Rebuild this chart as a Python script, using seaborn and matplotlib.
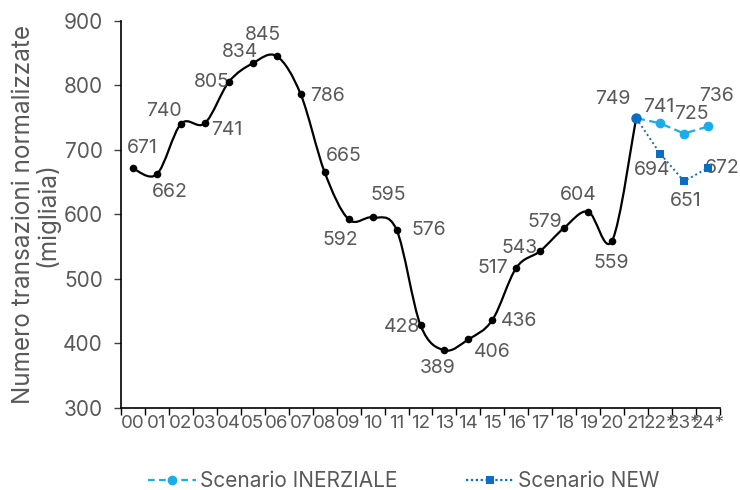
import numpy as np
import pandas as pd
import matplotlib
matplotlib.use("Agg")
import matplotlib.pyplot as plt
from matplotlib.path import Path
from matplotlib.patches import PathPatch
from matplotlib.lines import Line2D
import seaborn as sns

# Hour labels and observed values (thousands)
hours = ["00", "01", "02", "03", "04", "05", "06", "07", "08", "09", "10",
         "11", "12", "13", "14", "15", "16", "17", "18", "19", "20", "21",
         "22*", "23*", "24*"]
observed = [671, 662, 740, 741, 805, 834, 845, 786, 665, 592, 595, 576,
            428, 389, 406, 436, 517, 543, 579, 604, 559, 749]
# Scenarios start from the last observed hour (21)
scen_hours = ["21", "22*", "23*", "24*"]
inerziale = [749, 741, 725, 736]
new = [749, 694, 651, 672]

# label offsets (points) for the data labels
obs_offsets = [(7, 15), (9, -13), (-12, 9), (16, -5), (-12, 0), (-9, 8),
               (-10, 15), (19, -1), (14, 12), (-6, -15), (11, 16), (23, 0),
               (-13, -1), (-5, -13), (17, -9), (19, -1), (-17, 0), (-15, 2),
               (-14, 4), (-7, 12), (-1, -16), (-17, 14)]
inr_offsets = [None, (-1, 12), (5, 14), (6, 22)]
new_offsets = [None, (-6, -12), (1, -14), (10, 0)]

sns.set_theme(style="white")
plt.rcParams["font.family"] = ["Inter", "DejaVu Sans"]

GRAY = "#595959"
LIGHT = "#1AADEA"
DARK = "#0A6FC2"

fig = plt.figure(figsize=(7.4, 4.9), dpi=100)
ax = fig.add_axes([121 / 740, 82.3 / 490, 599 / 740, 387 / 490])

pos = {h: i for i, h in enumerate(hours)}
xo = np.array([pos[h] for h in hours[:len(observed)]], dtype=float)
yo = np.array(observed, dtype=float)

# smoothed observed curve: cubic Bezier segments through every point
verts = [(xo[0], yo[0])]
codes = [Path.MOVETO]
n = len(xo)
for i in range(n - 1):
    p0 = np.array([xo[max(i - 1, 0)], yo[max(i - 1, 0)]])
    p1 = np.array([xo[i], yo[i]])
    p2 = np.array([xo[i + 1], yo[i + 1]])
    p3 = np.array([xo[min(i + 2, n - 1)], yo[min(i + 2, n - 1)]])
    c1 = p1 + (p2 - p0) / 6.0
    c2 = p2 - (p3 - p1) / 6.0
    verts += [tuple(c1), tuple(c2), tuple(p2)]
    codes += [Path.CURVE4] * 3
ax.add_patch(PathPatch(Path(verts, codes), fill=False, edgecolor="black",
                       lw=1.6, zorder=3))

df_obs = pd.DataFrame({"x": xo, "y": yo})
sns.scatterplot(data=df_obs.iloc[:-1], x="x", y="y", color="black", s=30,
                edgecolor="black", linewidth=0, ax=ax, zorder=4)

xs = np.array([pos[h] for h in scen_hours], dtype=float)
df_inr = pd.DataFrame({"x": xs, "y": inerziale})
df_new = pd.DataFrame({"x": xs, "y": new})
sns.lineplot(data=df_inr, x="x", y="y", color=LIGHT, lw=1.6, ax=ax,
             marker="o", markersize=7, markeredgewidth=0, zorder=5,
             linestyle=(0, (4, 2)), markevery=[1, 2, 3])
sns.lineplot(data=df_new, x="x", y="y", color=DARK, lw=1.4, ax=ax,
             marker="s", markersize=6, markeredgewidth=0, zorder=5,
             linestyle=(0, (1, 1.5)), markevery=[1, 2, 3])
# shared starting point
ax.plot([xs[0]], [inerziale[0]], marker="o", color=DARK, markersize=7.5,
        markeredgewidth=0, zorder=6)

label_kw = dict(textcoords="offset points", ha="center", va="center",
                color=GRAY, fontsize=14, annotation_clip=False)
for x, y, off in zip(xo, yo, obs_offsets):
    ax.annotate(f"{int(y)}", (x, y), xytext=off, **label_kw)
for x, y, off in zip(xs[1:], inerziale[1:], inr_offsets[1:]):
    ax.annotate(f"{int(y)}", (x, y), xytext=off, **label_kw)
for x, y, off in zip(xs[1:], new[1:], new_offsets[1:]):
    ax.annotate(f"{int(y)}", (x, y), xytext=off, **label_kw)

# axes
ax.set_xlim(-0.5, len(hours) - 0.5)
ax.set_ylim(300, 900)
ax.set_yticks(np.arange(300, 901, 100))
ax.set_xticks(np.arange(-0.5, len(hours), 1.0))
ax.set_xticklabels([])
ax.set_xticks(np.arange(len(hours)), minor=True)
ax.set_xticklabels(hours, minor=True)
ax.tick_params(axis="x", which="major", direction="out", length=5,
               width=1, color="black", bottom=True)
ax.tick_params(axis="x", which="minor", length=0, labelsize=13.5,
               labelcolor=GRAY, pad=5, bottom=True)
ax.tick_params(axis="y", direction="out", length=5, width=1, color="#404040",
               labelsize=15, labelcolor=GRAY, left=True, pad=8)
for side in ["top", "right"]:
    ax.spines[side].set_visible(False)
for side in ["left", "bottom"]:
    ax.spines[side].set_color("black")
    ax.spines[side].set_linewidth(1.2)
ax.set_xlabel("")
ax.set_ylabel("Numero transazioni normalizzate\n(migliaia)", color=GRAY,
              fontsize=17.5, linespacing=0.95, labelpad=3)

handles = [
    Line2D([], [], color=LIGHT, lw=1.6, linestyle=(0, (3, 2)), marker="o",
           markersize=7, markeredgewidth=0),
    Line2D([], [], color=DARK, lw=1.6, linestyle=(0, (1, 1.2)), marker="s",
           markersize=6, markeredgewidth=0),
]
fig.legend(handles, ["Scenario INERZIALE", "Scenario NEW"], ncol=2,
           loc="center", bbox_to_anchor=(404 / 740, 0.018), frameon=False,
           fontsize=15, labelcolor=GRAY, handlelength=2.3, handletextpad=0.2,
           columnspacing=3.3)

fig.savefig("out.png", dpi=100)
